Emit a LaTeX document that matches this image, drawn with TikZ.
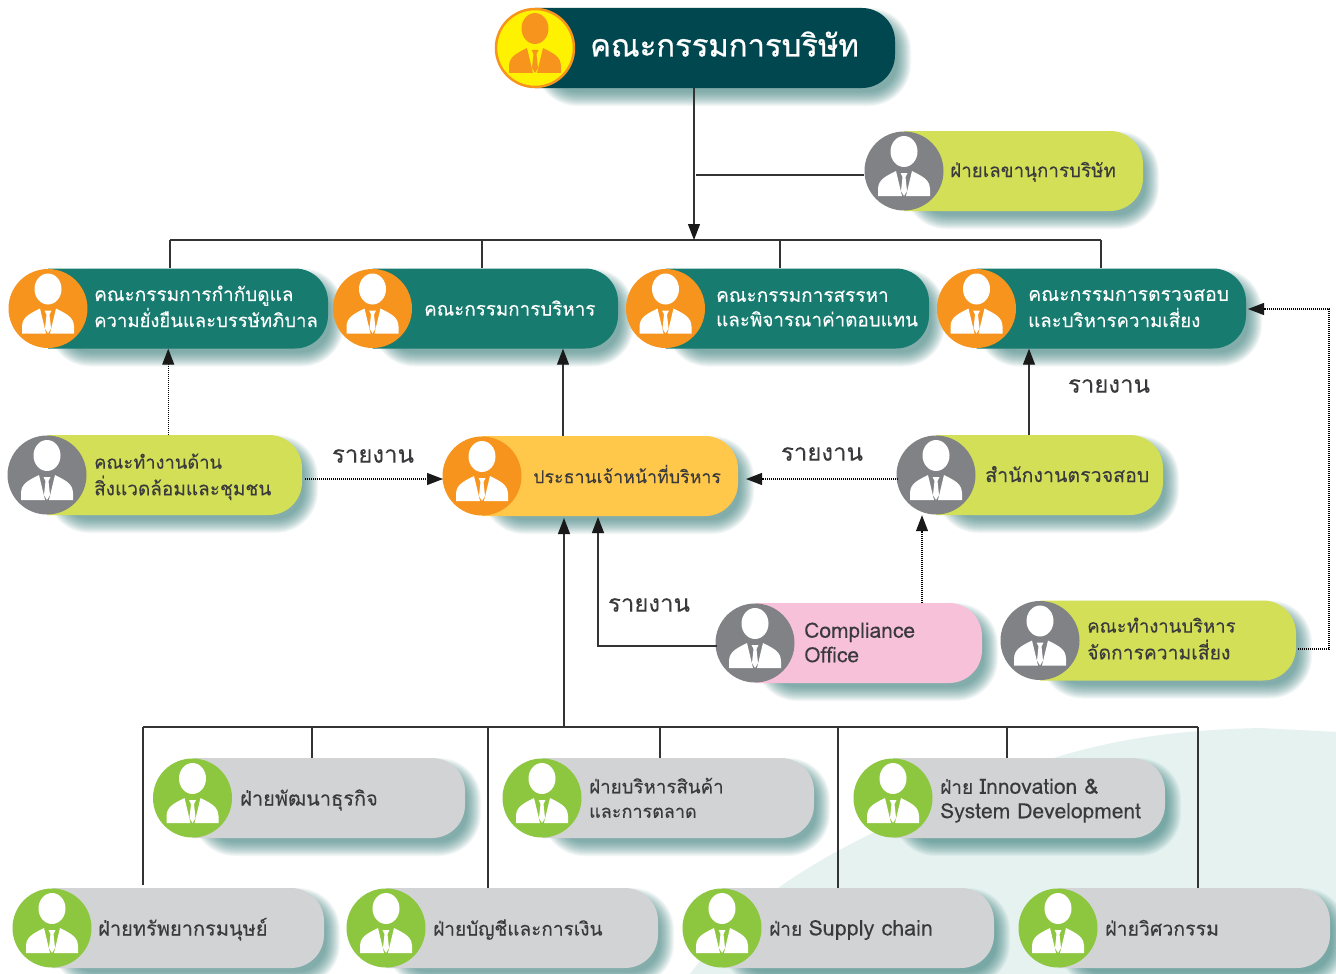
\documentclass[tikz,border=0pt]{standalone}
\usepackage{fontspec}
\usetikzlibrary{arrows.meta}
\newfontfamily\thaifont[Script=Thai,FakeBold=0.12]{Loma}
\newfontfamily\thaiheavy[Script=Thai,FakeBold=0.9]{Loma}
\definecolor{boardc}{HTML}{004750}
\definecolor{tealc}{HTML}{177B6F}
\definecolor{limec}{HTML}{D2DF57}
\definecolor{ceoc}{HTML}{FFC84B}
\definecolor{orangec}{HTML}{F7941E}
\definecolor{grayc}{HTML}{808285}
\definecolor{pinkc}{HTML}{F7C1DA}
\definecolor{silverc}{HTML}{D1D3D4}
\definecolor{greenc}{HTML}{8DC63F}
\definecolor{darktext}{HTML}{3A3A3C}
\definecolor{yellowc}{HTML}{FFF200}
\definecolor{shadowc}{HTML}{2F7A75}
\definecolor{paler}{HTML}{E5F2F0}
\pgfdeclarelayer{shadowlayer}
\pgfsetlayers{shadowlayer,main}
\tikzset{
  x=1pt,y=-1pt,
  pillnode/.style={rectangle,inner sep=0pt,minimum height=80pt},
  pilltext/.style={anchor=west,inner sep=0pt,align=left,font=\thaifont\fontsize{19}{24.5}\selectfont},
  reportlabel/.style={anchor=center,inner sep=0pt,text=darktext,font=\thaifont\fontsize{24}{28}\selectfont},
  solidline/.style={draw=black!80,line width=1.2pt},
  dotline/.style={draw=black,line width=1.1pt,dash pattern=on 1pt off 1pt},
  tip/.style={-{Triangle[length=16pt,width=12pt,color=black!90]}},
}
\newcommand{\iconc}{white}
\newcommand{\st}{\rule[-6pt]{0pt}{24pt}}
\newcommand{\fs}[1]{\fontsize{#1}{24.5}\selectfont}
\newcommand{\person}[3]{%
  \begin{scope}[shift={(#1,#2)},x=1pt,y=-1pt]
    \fill[#3] (0,-19.5) ellipse [x radius=13.5,y radius=15.5];
    \fill[#3] (-26,25) -- (-26,18) .. controls (-25.5,9) and (-20,6) .. (-8,0) -- (-2,25) -- cycle;
    \fill[#3] (26,25) -- (26,18) .. controls (25.5,9) and (20,6) .. (8,0) -- (2,25) -- cycle;
    \fill[#3] (-3.5,2) -- (3.5,2) -- (1.5,6) -- (3,20) -- (0,25) -- (-3,20) -- (-1.5,6) -- cycle;
  \end{scope}}
% name, cx, cy, right, body colour, badge colour, text position, text colour, text
\newcommand{\pill}[9]{%
  \pgfmathsetmacro{\pl}{#2-39.5}%
  \pgfmathsetmacro{\pw}{#4-\pl}%
  \pgfmathsetmacro{\pc}{(#4+\pl)/2}%
  \pgfmathsetmacro{\pt}{#3-40}%
  \pgfmathsetmacro{\pb}{#3+40}%
  \begin{pgfonlayer}{shadowlayer}
    \foreach \g in {10,9,...,-4}{%
      \pgfmathsetmacro{\rr}{max(32+\g,4)}%
      \fill[shadowc,opacity=0.055,rounded corners=\rr pt]
        (#2+10-\g,\pt+10-\g) rectangle (#4+6+\g,\pb+8+\g);
    }
  \end{pgfonlayer}
  \fill[#5] (#2,\pt) {[rounded corners=33pt] -- (#4,\pt) -- (#4,\pb)} -- (#2,\pb) -- cycle;
  \node[pillnode,minimum width=\pw pt] (#1) at (\pc,#3) {};
  \fill[#6] (#2,#3) circle [radius=39.5];
  \person{#2}{#3}{\iconc}
  \node[pilltext,text=#8] (#1t) at (#7) {\st #9};
}
\begin{document}
\begin{tikzpicture}
\useasboundingbox (0,0) rectangle (1336,974);
\begin{pgfonlayer}{shadowlayer}
  \fill[white] (0,0) rectangle (1336,974);
  \fill[paler] (690,974) .. controls (760,880) and (860,830) .. (1057,757)
     .. controls (1120,738) and (1180,730) .. (1260,728) -- (1336,732) -- (1336,974) -- cycle;
\end{pgfonlayer}

% board
\renewcommand{\iconc}{orangec}
\pill{board}{535}{48}{895}{boardc}{yellowc}{590,47}{white}{\thaiheavy\fontsize{31}{34}\selectfont คณะกรรมการบริษัท}
\renewcommand{\iconc}{white}
\draw[orangec,line width=2.5pt] (535,48) circle [radius=39];

% secretary
\pill{sec}{904}{171}{1143}{limec}{grayc}{950,171}{darktext}{\fs{18.8}ฝ่ายเลขานุการบริษัท}

% committees
\pill{cgov}{48}{308.5}{328}{tealc}{orangec}{94,308}{white}{คณะกรรมการกำกับดูแล\\\st\fs{18.5}ความยั่งยืนและบรรษัทภิบาล}
\pill{cexec}{372.5}{308.5}{618}{tealc}{orangec}{424,309.5}{white}{\fs{18.8}คณะกรรมการบริหาร}
\pill{cnom}{665.5}{308.5}{929}{tealc}{orangec}{716,308}{white}{คณะกรรมการสรรหา\\\st\fs{18.8}และพิจารณาค่าตอบแทน}
\pill{caud}{976.5}{308.5}{1246}{tealc}{orangec}{1028,308}{white}{\fs{19.4}คณะกรรมการตรวจสอบ\\\st\fs{18.7}และบริหารความเสี่ยง}

% middle row
\pill{env}{47}{475}{302}{limec}{grayc}{94,476}{darktext}{\fs{18.3}คณะทำงานด้าน\\\st สิ่งแวดล้อมและชุมชน}
\pill{ceo}{482}{476}{738}{ceoc}{orangec}{533,477}{darktext}{\fs{17.8}ประธานเจ้าหน้าที่บริหาร}
\pill{audit}{936}{475}{1163}{limec}{grayc}{985,476}{darktext}{\fs{19.6}สำนักงานตรวจสอบ}
\pill{comp}{755}{643}{982}{pinkc}{grayc}{804,644}{darktext}{\fs{21}Compliance\\\st\fs{21}Office}
\pill{risk}{1040}{640.5}{1296}{limec}{grayc}{1087,640}{darktext}{\fs{18.5}คณะทำงานบริหาร\\\st\fs{19.3}จัดการความเสี่ยง}

% departments
\pill{dbiz}{192.5}{798}{465}{silverc}{greenc}{240,799.5}{darktext}{\fs{20}ฝ่ายพัฒนาธุรกิจ}
\pill{dprod}{542}{798}{814}{silverc}{greenc}{589,799.5}{darktext}{\fs{18.7}ฝ่ายบริหารสินค้า\\\st\fs{18}และการตลาด}
\pill{dinno}{893}{798}{1165}{silverc}{greenc}{940,800}{darktext}{ฝ่าย {\fs{21}Innovation \&}\\\st\fs{21}System Development}
\pill{dhr}{52}{928}{324}{silverc}{greenc}{98,929.5}{darktext}{\fs{20}ฝ่ายทรัพยากรมนุษย์}
\pill{dacc}{386}{928}{658}{silverc}{greenc}{433,929.5}{darktext}{ฝ่ายบัญชีและการเงิน}
\pill{dsup}{722}{928}{994}{silverc}{greenc}{769,929.5}{darktext}{ฝ่าย {\fs{21.5}Supply chain}}
\pill{deng}{1058}{928}{1330}{silverc}{greenc}{1105,929.5}{darktext}{\fs{19.5}ฝ่ายวิศวกรรม}

% report labels
\node[reportlabel] (r1) at (1109,386) {รายงาน};
\node[reportlabel] (r2) at (373,456) {รายงาน};
\node[reportlabel] (r3) at (822,454) {รายงาน};
\node[reportlabel] (r4) at (649,605) {รายงาน};

% upper bus
\coordinate (busL) at (170,240);
\coordinate (busR) at (1101,240);
\coordinate (busM) at (694,240);
\coordinate (secj) at (696,175);
\draw[solidline] (busL) -- (busR);
\draw[solidline,tip] (board.south -| busM) -- (busM);
\draw[solidline] (secj) -- (secj -| sec.west);
\draw[solidline] (busL) -- (busL |- cgov.north);
\draw[solidline] (482,240) coordinate (d2) -- (d2 |- cexec.north);
\draw[solidline] (780,240) coordinate (d3) -- (d3 |- cnom.north);
\draw[solidline] (busR) -- (busR |- caud.north);

% mid connectors
\draw[dotline,tip] (env.north -| cgov.south) -- (cgov.south);
\coordinate (envout) at (305,479);
\coordinate (ceoinL) at (443,479);
\coordinate (ceoinR) at (746,479);
\coordinate (audout) at (898,479);
\draw[dotline,tip] (envout) -- (ceoinL);
\draw[dotline,tip] (audout) -- (ceoinR);
\draw[solidline,tip] (563,436) coordinate (a1) -- (a1 |- cexec.south);
\draw[solidline,tip] (1029,435) coordinate (a2) -- (a2 |- caud.south);
\draw[dotline,tip] (922,603) coordinate (a3) -- (a3 |- audit.south);
\coordinate (compout) at (717,646);
\coordinate (ceoup) at (598,517);
\draw[solidline,tip] (compout) -- (compout -| ceoup) -- (ceoup);
\coordinate (riskout) at (1298,649);
\coordinate (riskbus) at (1329,649);
\coordinate (caudin) at (1248,309);
\draw[dotline,tip] (riskout) -- (riskbus) -- (riskbus |- caudin) -- (caudin);

% lower bus
\coordinate (lowL) at (143,727);
\coordinate (lowR) at (1198,727);
\draw[solidline] (lowL) -- (lowR);
\draw[solidline,tip] (564,727) coordinate (lowM) -- (564,518);
\draw[solidline] (lowL) -- (143,885);
\draw[solidline] (312,727) coordinate (l1) -- (l1 |- dbiz.north);
\draw[solidline] (488,727) coordinate (l2) -- (l2 |- dacc.north);
\draw[solidline] (660,727) coordinate (l3) -- (l3 |- dprod.north);
\draw[solidline] (838,727) coordinate (l4) -- (l4 |- dsup.north);
\draw[solidline] (1007,727) coordinate (l5) -- (l5 |- dinno.north);
\draw[solidline] (lowR) -- (lowR |- deng.north);
\end{tikzpicture}
\end{document}
